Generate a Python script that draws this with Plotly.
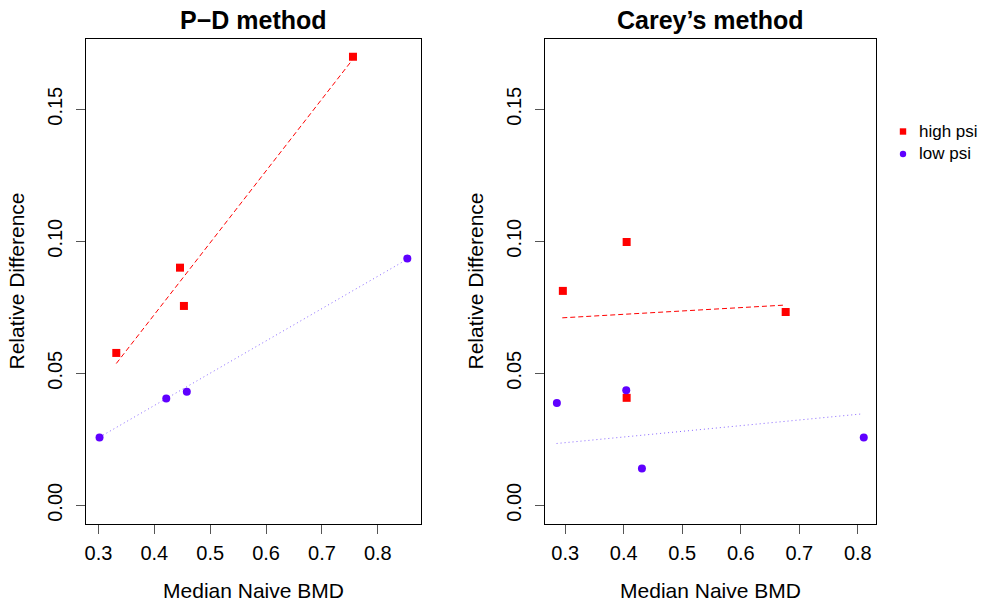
import plotly.graph_objects as go

# ---- data ----
# P-D method
pd_high_x = [0.332, 0.446, 0.453, 0.7555]
pd_high_y = [0.0577, 0.0900, 0.0755, 0.1699]
pd_low_x = [0.302, 0.4214, 0.4582, 0.8527]
pd_low_y = [0.0257, 0.0404, 0.0430, 0.0935]
pd_high_fit_x = [0.332, 0.7555]
pd_high_fit_y = [0.0537, 0.1690]
pd_low_fit_x = [0.302, 0.8527]
pd_low_fit_y = [0.0258, 0.0932]

# Carey's method
cm_high_x = [0.296, 0.405, 0.6767, 0.405]
cm_high_y = [0.0812, 0.0997, 0.0732, 0.0407]
cm_low_x = [0.2858, 0.4043, 0.4311, 0.8101]
cm_low_y = [0.0387, 0.0436, 0.0139, 0.0257]
cm_high_fit_x = [0.295, 0.673]
cm_high_fit_y = [0.0710, 0.0758]
cm_low_fit_x = [0.2853, 0.8067]
cm_low_fit_y = [0.0234, 0.0346]

panel_titles = ["P\u2212D method", "Carey\u2019s method"]
x_title = "Median Naive BMD"
y_title = "Relative Difference"
legend_labels = ["high psi", "low psi"]
x_ticks = [0.3, 0.4, 0.5, 0.6, 0.7, 0.8]
y_ticks = [0.00, 0.05, 0.10, 0.15]
y_tick_text = ["0.00", "0.05", "0.10", "0.15"]

RED = "#FF0000"
BLUE = "#5F00FF"
BLUE_LINE = "#8866FF"
FONT = "Liberation Sans, Arial, Helvetica, sans-serif"

W, H = 982, 603

fig = go.Figure()

def add_panel(xa, ya, hx, hy, lx, ly, hfx, hfy, lfx, lfy):
    fig.add_trace(go.Scatter(x=hfx, y=hfy, mode="lines", xaxis=xa, yaxis=ya,
                             line=dict(color=RED, width=1, dash="5px,3px"), showlegend=False,
                             hoverinfo="skip"))
    fig.add_trace(go.Scatter(x=lfx, y=lfy, mode="lines", xaxis=xa, yaxis=ya,
                             line=dict(color=BLUE_LINE, width=1, dash="1px,3px"), showlegend=False,
                             hoverinfo="skip"))
    fig.add_trace(go.Scatter(x=hx, y=hy, mode="markers", xaxis=xa, yaxis=ya,
                             marker=dict(symbol="square", size=8, color=RED),
                             name=legend_labels[0], showlegend=False))
    fig.add_trace(go.Scatter(x=lx, y=ly, mode="markers", xaxis=xa, yaxis=ya,
                             marker=dict(symbol="circle", size=8, color=BLUE),
                             name=legend_labels[1], showlegend=False))

add_panel("x", "y", pd_high_x, pd_high_y, pd_low_x, pd_low_y,
          pd_high_fit_x, pd_high_fit_y, pd_low_fit_x, pd_low_fit_y)
add_panel("x2", "y2", cm_high_x, cm_high_y, cm_low_x, cm_low_y,
          cm_high_fit_x, cm_high_fit_y, cm_low_fit_x, cm_low_fit_y)

BOX_TOP, BOX_BOT = 38.5, 523.5
ydom = [1 - BOX_BOT / H, 1 - BOX_TOP / H]
tickfont = dict(family=FONT, size=20, color="black")
titlefont = dict(family=FONT, size=21, color="black")

def xaxis(dom, rng, anchor):
    return dict(domain=dom, range=rng, anchor=anchor, tickvals=x_ticks,
                ticktext=[f"{v:.1f}" for v in x_ticks],
                showline=True, linecolor="black", linewidth=1, mirror=True,
                ticks="outside", ticklen=9, tickcolor="#555555", tickwidth=1,
                showgrid=False, zeroline=False, tickfont=tickfont,
                ticklabelstandoff=2,
                title=dict(text=x_title, font=titlefont, standoff=20))

def yaxis(anchor):
    return dict(domain=ydom, range=[-0.0069, 0.1768], anchor=anchor, tickvals=y_ticks,
                ticktext=y_tick_text, tickangle=-90,
                showline=True, linecolor="black", linewidth=1, mirror=True,
                ticks="outside", ticklen=9, tickcolor="#555555", tickwidth=1,
                showgrid=False, zeroline=False, tickfont=tickfont,
                ticklabelstandoff=6,
                title=dict(text=y_title, font=titlefont, standoff=13))

annotations = [
    dict(text=f"<b>{panel_titles[0]}</b>", x=(86 + 421) / 2 / W, y=1 - 20 / H,
         xref="paper", yref="paper", showarrow=False, xanchor="center", yanchor="middle",
         font=dict(family=FONT, size=25, color="black")),
    dict(text=f"<b>{panel_titles[1]}</b>", x=(545 + 876) / 2 / W, y=1 - 20 / H,
         xref="paper", yref="paper", showarrow=False, xanchor="center", yanchor="middle",
         font=dict(family=FONT, size=25, color="black")),
]
# manual legend (R style)
leg_rows = [131.5, 154]
leg_colors = [RED, BLUE]
shapes = []
for i, (lab, col, yy) in enumerate(zip(legend_labels, leg_colors, leg_rows)):
    annotations.append(dict(text=lab, x=917 / W, y=1 - yy / H, xref="paper", yref="paper",
                            showarrow=False, xanchor="left", yanchor="middle",
                            font=dict(family=FONT, size=17, color="black")))
    s = 3.2
    shapes.append(dict(type="rect" if i == 0 else "circle", xref="paper", yref="paper",
                       x0=(903 - s) / W, x1=(903 + s) / W,
                       y0=1 - (yy + s) / H, y1=1 - (yy - s) / H,
                       fillcolor=col, line=dict(width=0)))

fig.update_layout(
    width=W, height=H,
    margin=dict(l=0, r=0, t=0, b=0),
    paper_bgcolor="white", plot_bgcolor="white",
    xaxis=xaxis([86 / W, 421 / W], [0.2778, 0.8772], "y"),
    yaxis=yaxis("x"),
    xaxis2=xaxis([545 / W, 876 / W], [0.2655, 0.8310], "y2"),
    yaxis2=yaxis("x2"),
    showlegend=False,
    annotations=annotations,
    shapes=shapes,
)

fig.write_html("out.html", config={"displayModeBar": False},
               post_script="document.body.style.margin='0px';")
